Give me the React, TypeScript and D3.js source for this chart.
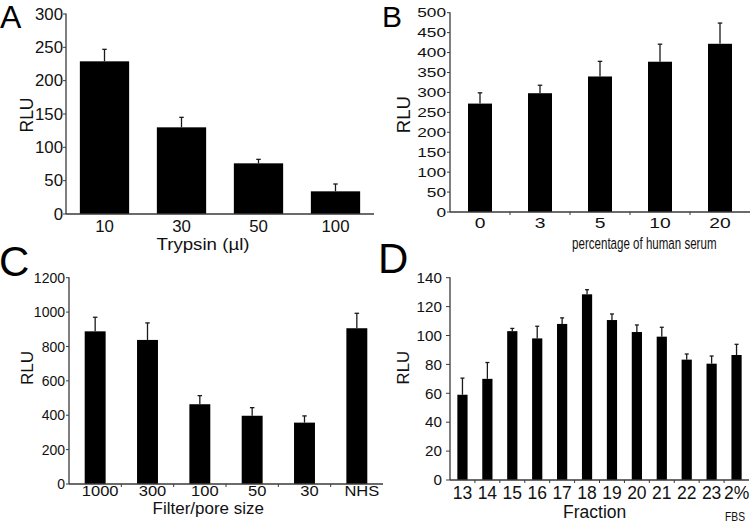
import React from "react";
import * as d3 from "d3";

// ---------- DATA ----------
const aCats = ["10", "30", "50", "100"];
const aVals = [229, 130, 76, 34];
const aErr = [18, 15, 6, 11];
const aYTicks = [0, 50, 100, 150, 200, 250, 300];

const bCats = ["0", "3", "5", "10", "20"];
const bVals = [272, 298, 340, 377, 422];
const bErr = [27, 20, 38, 44, 52];
const bYTicks = [0, 50, 100, 150, 200, 250, 300, 350, 400, 450, 500];

const cCats = ["1000", "300", "100", "50", "30", "NHS"];
const cVals = [888, 838, 464, 397, 357, 906];
const cErr = [82, 99, 50, 47, 39, 87];
const cYTicks = [0, 200, 400, 600, 800, 1000, 1200];

const dCats = ["13", "14", "15", "16", "17", "18", "19", "20", "21", "22", "23", "2%"];
const dVals = [59, 70, 103, 98, 108, 128.5, 110.7, 102.4, 99.2, 83.3, 80.5, 86.5];
const dErr = [11.5, 11.3, 1.9, 8.4, 4.2, 3.2, 4.2, 4.9, 6.5, 3.9, 5.3, 7.4];
const dYTicks = [0, 20, 40, 60, 80, 100, 120, 140];

const FONT = "'Liberation Sans', Arial, Helvetica, sans-serif";

type PanelCfg = {
  letter: string;
  letterX: number;
  letterY: number;
  letterSize: number;
  cats: string[];
  vals: number[];
  err: number[];
  yTicks: number[];
  x0: number;
  x1: number;
  yBase: number;
  yTopPx: number;
  padding: number;
  xTickMarks: boolean;
  yLabelRight: number;
  yTickLen: number;
  yTickFont: number;
  yTickSx: number;
  xLabelBase: number;
  xLabelFont: number;
  xLabelSx: number;
  xLabelDx: number;
  title: string;
  titleX: number;
  titleY: number;
  titleFont: number;
  titleSx: number;
  rluX: number;
  rluY: number;
  rluFont: number;
  capW: number;
};

const Panel: React.FC<{ c: PanelCfg }> = ({ c }) => {
  const x = d3.scaleBand<string>().domain(c.cats).range([c.x0, c.x1]).paddingInner(c.padding).paddingOuter(c.padding / 2);
  const yMax = c.yTicks[c.yTicks.length - 1];
  const y = d3.scaleLinear().domain([0, yMax]).range([c.yBase, c.yTopPx]);
  const step = x.step();
  const axisColor = "#3a3a3a";
  return (
    <g>
      <text x={c.letterX} y={c.letterY} fontSize={c.letterSize} fontFamily={FONT}>{c.letter}</text>
      {c.cats.map((k, i) => (
        <rect key={"b" + k} x={x(k)} y={y(c.vals[i])} width={x.bandwidth()} height={c.yBase - y(c.vals[i])} fill="#000" />
      ))}
      {c.cats.map((k, i) => {
        const cx = (x(k) as number) + x.bandwidth() / 2;
        const yt = y(c.vals[i] + c.err[i]);
        return (
          <g key={"e" + k} stroke="#1a1a1a" strokeWidth={1.3}>
            <line x1={cx} x2={cx} y1={y(c.vals[i])} y2={yt} />
            <line x1={cx - c.capW / 2} x2={cx + c.capW / 2} y1={yt} y2={yt} />
          </g>
        );
      })}
      <line x1={c.x0} x2={c.x0} y1={c.yTopPx - 0.5} y2={c.yBase} stroke={axisColor} strokeWidth={1.3} />
      <line x1={c.x0} x2={c.x1} y1={c.yBase} y2={c.yBase} stroke={axisColor} strokeWidth={1.3} />
      {c.yTicks.map((t) => (
        <g key={"yt" + t}>
          <line x1={c.x0 - c.yTickLen} x2={c.x0} y1={y(t)} y2={y(t)} stroke={axisColor} strokeWidth={1} />
          <text
            transform={`translate(${c.yLabelRight},${y(t)}) scale(${c.yTickSx},1)`}
            dy="0.36em"
            textAnchor="end"
            fontSize={c.yTickFont}
            fontFamily={FONT}
            fill="#111"
          >
            {t}
          </text>
        </g>
      ))}
      {c.xTickMarks &&
        c.cats.slice(1).map((k) => (
          <line key={"xt" + k} x1={(x(k) as number) - (step - x.bandwidth()) / 2} x2={(x(k) as number) - (step - x.bandwidth()) / 2} y1={c.yBase} y2={c.yBase + 3} stroke={axisColor} strokeWidth={1} />
        ))}
      {c.cats.map((k) => (
        <text
          key={"xl" + k}
          transform={`translate(${(x(k) as number) + x.bandwidth() / 2 + c.xLabelDx},${c.xLabelBase}) scale(${c.xLabelSx},1)`}
          textAnchor="middle"
          fontSize={c.xLabelFont}
          fontFamily={FONT}
          fill="#111"
        >
          {k}
        </text>
      ))}
      <text
        transform={`translate(${c.titleX},${c.titleY}) scale(${c.titleSx},1)`}
        textAnchor="middle"
        fontSize={c.titleFont}
        fontFamily={FONT}
        fill="#111"
      >
        {c.title}
      </text>
      <text
        transform={`translate(${c.rluX},${c.rluY}) rotate(-90)`}
        textAnchor="middle"
        dy="0.36em"
        fontSize={c.rluFont}
        fontFamily={FONT}
        fill="#111"
      >
        RLU
      </text>
    </g>
  );
};

const panels: PanelCfg[] = [
  {
    letter: "A", letterX: 0, letterY: 28, letterSize: 32,
    cats: aCats, vals: aVals, err: aErr, yTicks: aYTicks,
    x0: 66, x1: 374, yBase: 214, yTopPx: 14, padding: 0.36, xTickMarks: false,
    yLabelRight: 63, yTickLen: 3, yTickFont: 16, yTickSx: 1.05,
    xLabelBase: 231.7, xLabelFont: 16, xLabelSx: 1.05, xLabelDx: 0,
    title: "Trypsin (µl)", titleX: 203, titleY: 249.5, titleFont: 17, titleSx: 1.1,
    rluX: 27, rluY: 115, rluFont: 17.5, capW: 4.5,
  },
  {
    letter: "B", letterX: 382, letterY: 27.3, letterSize: 30,
    cats: bCats, vals: bVals, err: bErr, yTicks: bYTicks,
    x0: 450, x1: 750, yBase: 212, yTopPx: 12.7, padding: 0.6, xTickMarks: true,
    yLabelRight: 446, yTickLen: 3, yTickFont: 13, yTickSx: 1.33,
    xLabelBase: 227.7, xLabelFont: 14.5, xLabelSx: 1.33, xLabelDx: 0,
    title: "percentage of human serum", titleX: 644.3, titleY: 249.3, titleFont: 16.5, titleSx: 0.7,
    rluX: 403, rluY: 114.7, rluFont: 18.5, capW: 4.5,
  },
  {
    letter: "C", letterX: -1, letterY: 276, letterSize: 42,
    cats: cCats, vals: cVals, err: cErr, yTicks: cYTicks,
    x0: 69, x1: 383, yBase: 484, yTopPx: 277.7, padding: 0.6, xTickMarks: true,
    yLabelRight: 65, yTickLen: 3, yTickFont: 14, yTickSx: 1.0,
    xLabelBase: 495.7, xLabelFont: 14.5, xLabelSx: 1.14, xLabelDx: 5,
    title: "Filter/pore size", titleX: 208.3, titleY: 514, titleFont: 16.5, titleSx: 1.03,
    rluX: 26.7, rluY: 368, rluFont: 17, capW: 4.5,
  },
  {
    letter: "D", letterX: 378, letterY: 273, letterSize: 42,
    cats: dCats, vals: dVals, err: dErr, yTicks: dYTicks,
    x0: 450, x1: 749, yBase: 480, yTopPx: 277.7, padding: 0.59, xTickMarks: true,
    yLabelRight: 442, yTickLen: 4, yTickFont: 14.5, yTickSx: 1.05,
    xLabelBase: 499.3, xLabelFont: 17.5, xLabelSx: 1.0, xLabelDx: 0,
    title: "Fraction", titleX: 594.7, titleY: 518.3, titleFont: 17.5, titleSx: 1.0,
    rluX: 403, rluY: 367.7, rluFont: 16.7, capW: 4,
  },
];

export default function App() {
  return (
    <svg width={755} height={522} style={{ position: "absolute", left: 0, top: 0, background: "#fff" }}>
      <rect x={0} y={0} width={755} height={522} fill="#fff" />
      {panels.map((p) => (
        <Panel key={p.letter} c={p} />
      ))}
      <text transform="translate(735,520.5) scale(0.79,1)" textAnchor="middle" fontSize={13} fontFamily={FONT} fill="#111">
        FBS
      </text>
    </svg>
  );
}
